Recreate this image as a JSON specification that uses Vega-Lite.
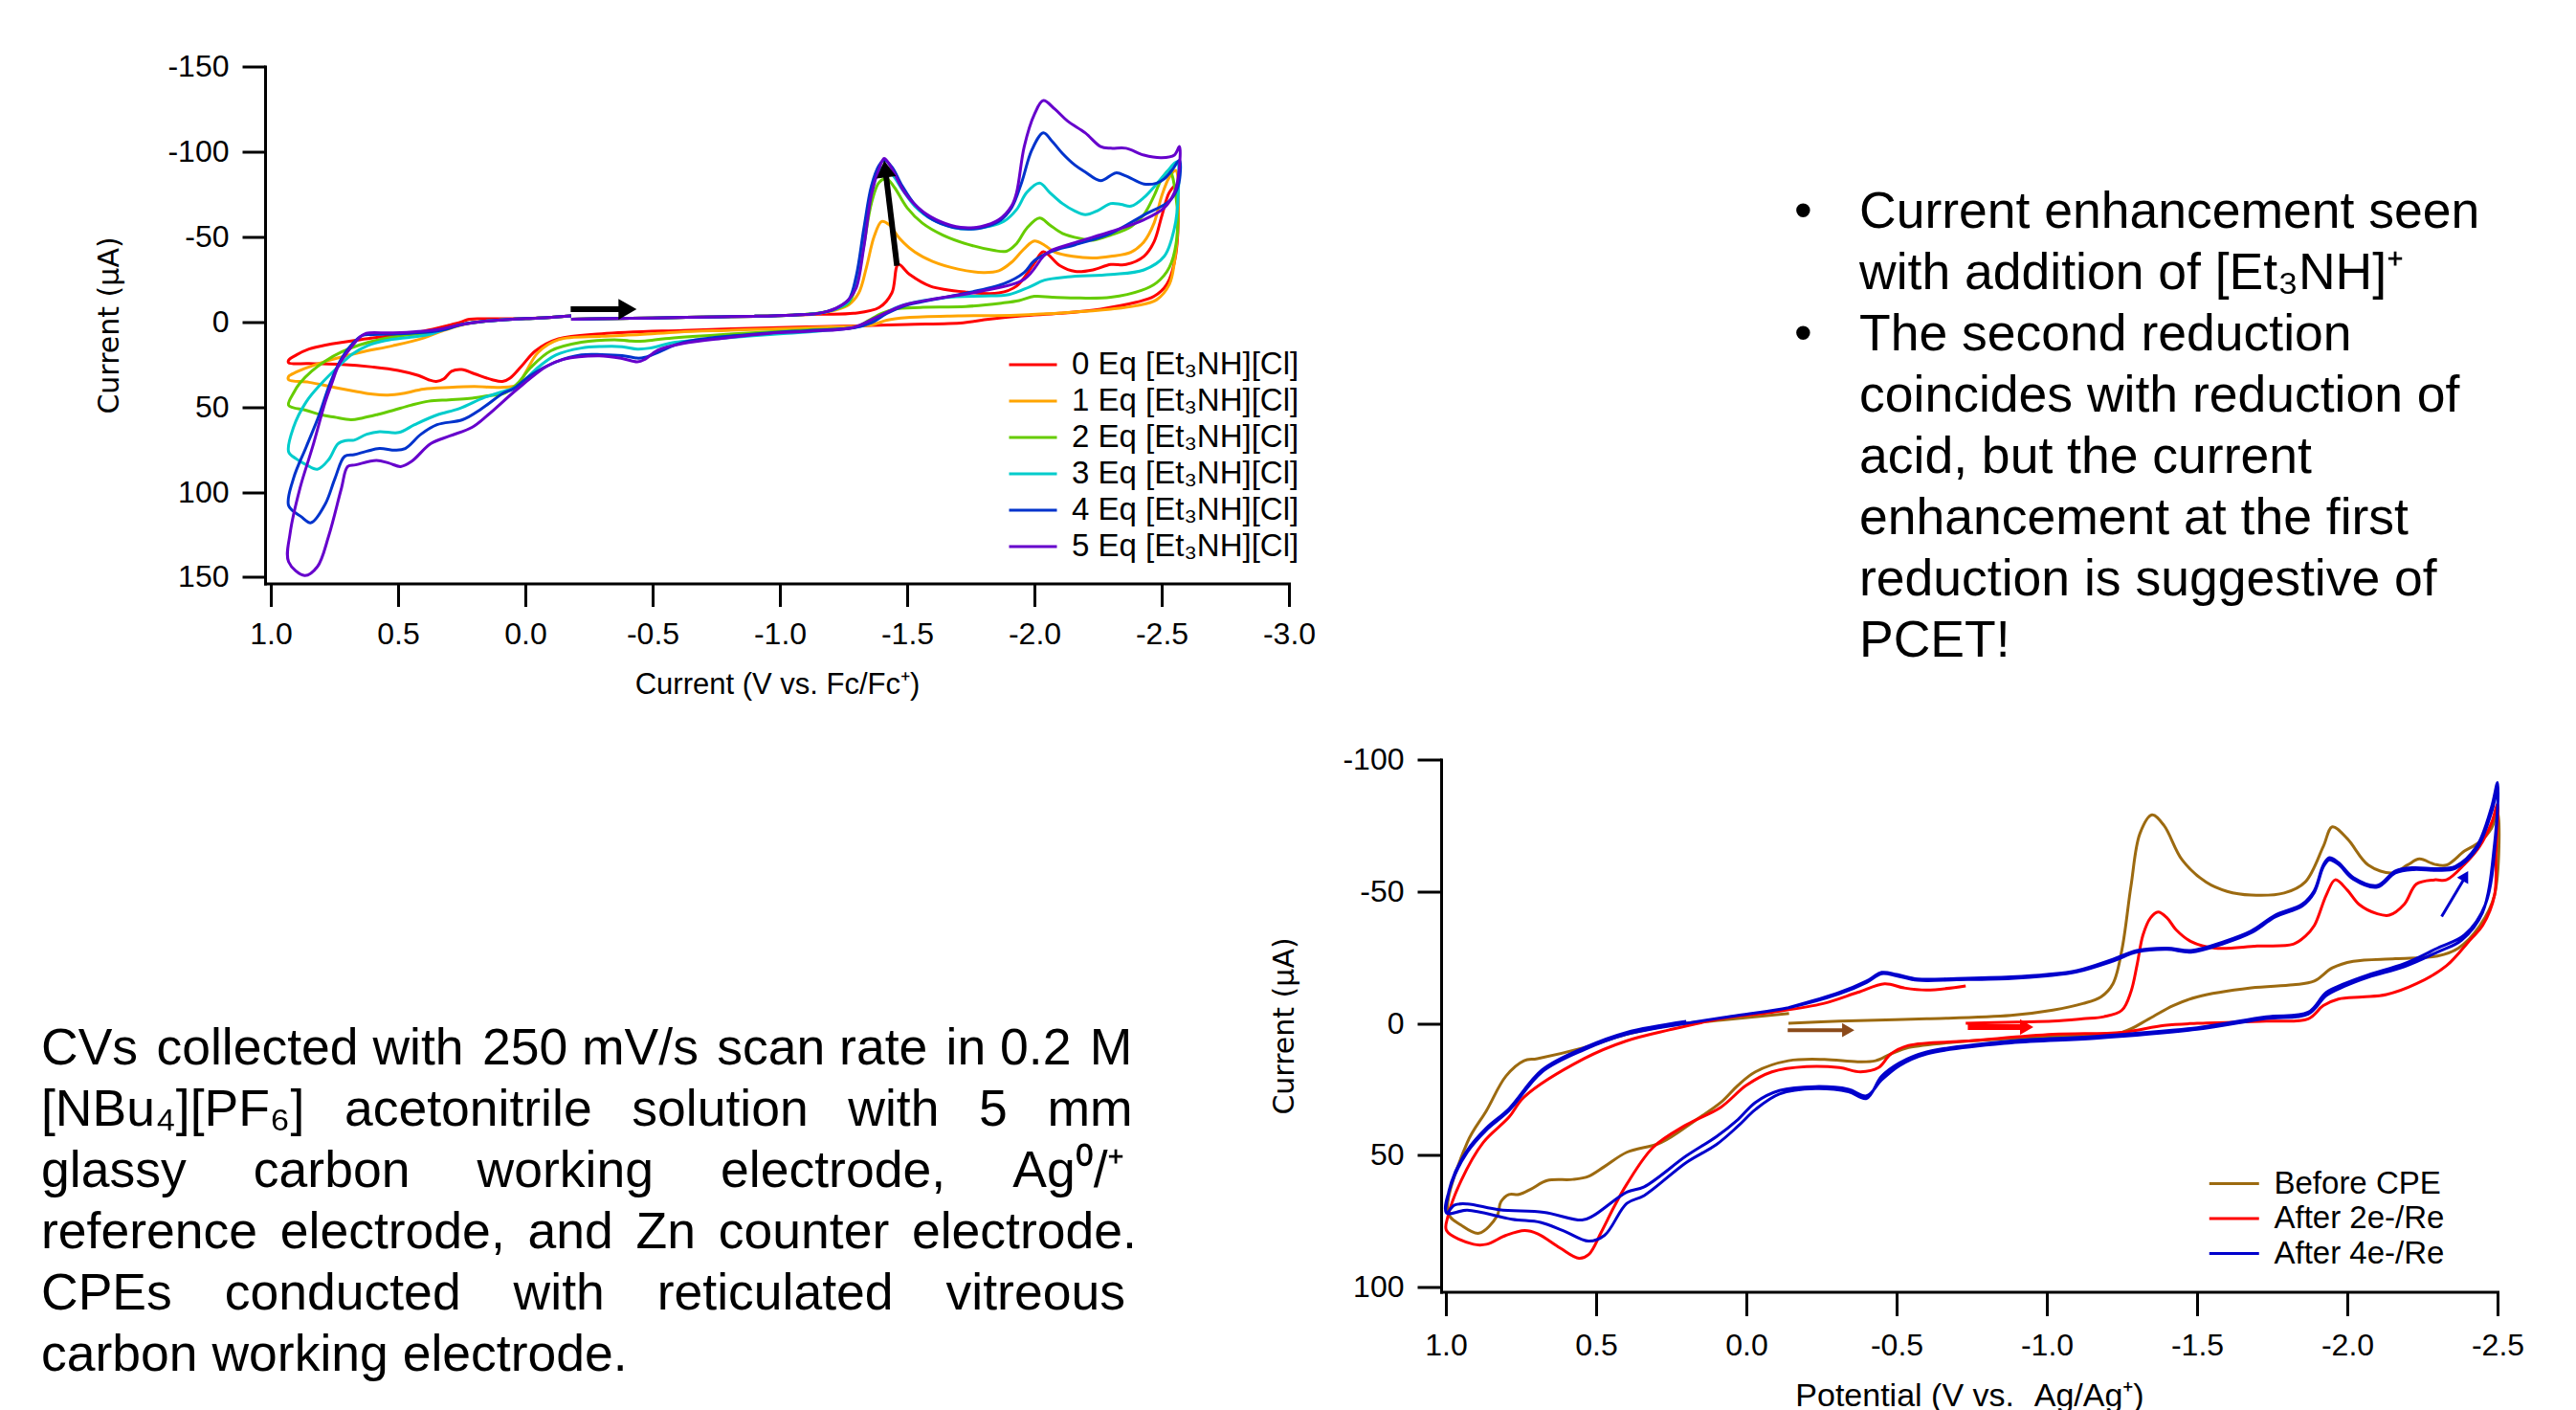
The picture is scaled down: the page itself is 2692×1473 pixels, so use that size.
{
"$schema": "https://vega.github.io/schema/vega-lite/v6.json",
"autosize": {"type": "pad"},
"padding": {"left": 43, "top": 53.5, "right": 0, "bottom": 0},
"background": "white",
"columns": 2,
"align": "each",
"bounds": "flush",
"spacing": {"column": 159, "row": 184},
"resolve": {"scale": {"color": "independent", "x": "independent", "y": "independent"}, "legend": {"color": "independent"}},
"config": {
 "view": {"stroke": null},
 "axis": {"domainColor": "#000", "domainWidth": 3, "domainCap": "square", "tickColor": "#000", "tickWidth": 3, "labelColor": "#000", "labelFont": "Liberation Sans", "labelFontSize": 32, "titleColor": "#000", "titleFont": "Liberation Sans", "titleFontSize": 31, "titleFontWeight": "normal", "grid": false, "labelFlush": false, "labelOverlap": false, "titleAlign": "center", "titleBaseline": "middle"},
 "legend": {"padding": 0, "rowPadding": 0, "labelFont": "Liberation Sans", "labelColor": "#000", "labelLimit": 700, "symbolStrokeWidth": 3}
},
"datasets": {
"top": [
{"s":"0","v":-0.18,"i":-1.5},{"s":"0","v":-0.35,"i":-2},{"s":"0","v":-0.5,"i":-2.3},{"s":"0","v":-0.7,"i":-2.8},{"s":"0","v":-0.9,"i":-3.3},{"s":"0","v":-1.05,"i":-4},{"s":"0","v":-1.15,"i":-4.5},{"s":"0","v":-1.29,"i":-5},{"s":"0","v":-1.39,"i":-8.4},{"s":"0","v":-1.44,"i":-17},{"s":"0","v":-1.465,"i":-33.7},{"s":"0","v":-1.51,"i":-27.8},{"s":"0","v":-1.59,"i":-21},{"s":"0","v":-1.73,"i":-17.5},{"s":"0","v":-1.86,"i":-17},{"s":"0","v":-1.93,"i":-21},{"s":"0","v":-2.0,"i":-34.5},{"s":"0","v":-2.035,"i":-41.2},{"s":"0","v":-2.1,"i":-33},{"s":"0","v":-2.16,"i":-29.6},{"s":"0","v":-2.23,"i":-30.5},{"s":"0","v":-2.3,"i":-33.7},{"s":"0","v":-2.36,"i":-33.7},{"s":"0","v":-2.43,"i":-38.5},{"s":"0","v":-2.47,"i":-47},{"s":"0","v":-2.5,"i":-62},{"s":"0","v":-2.53,"i":-76},{"s":"0","v":-2.555,"i":-80},{"s":"0","v":-2.565,"i":-60},{"s":"0","v":-2.55,"i":-35},{"s":"0","v":-2.52,"i":-22},{"s":"0","v":-2.47,"i":-15},{"s":"0","v":-2.4,"i":-11.5},{"s":"0","v":-2.26,"i":-7.5},{"s":"0","v":-2.1,"i":-5},{"s":"0","v":-1.95,"i":-3.5},{"s":"0","v":-1.82,"i":-1.5},{"s":"0","v":-1.72,"i":0.5},{"s":"0","v":-1.5,"i":1.5},{"s":"0","v":-1.29,"i":2.4},{"s":"0","v":-0.96,"i":3.5},{"s":"0","v":-0.62,"i":5},{"s":"0","v":-0.3,"i":7},{"s":"0","v":-0.13,"i":10},{"s":"0","v":-0.04,"i":17},{"s":"0","v":0.015,"i":26},{"s":"0","v":0.06,"i":33},{"s":"0","v":0.09,"i":35},{"s":"0","v":0.13,"i":34},{"s":"0","v":0.2,"i":30.5},{"s":"0","v":0.25,"i":28},{"s":"0","v":0.29,"i":29},{"s":"0","v":0.32,"i":33.5},{"s":"0","v":0.35,"i":35},{"s":"0","v":0.38,"i":34},{"s":"0","v":0.42,"i":31.5},{"s":"0","v":0.5,"i":28.5},{"s":"0","v":0.6,"i":26.5},{"s":"0","v":0.72,"i":25},{"s":"0","v":0.85,"i":24.5},{"s":"0","v":0.93,"i":24},{"s":"0","v":0.93,"i":22.5},{"s":"0","v":0.9,"i":19.5},{"s":"0","v":0.85,"i":16},{"s":"0","v":0.78,"i":13.5},{"s":"0","v":0.65,"i":10.5},{"s":"0","v":0.52,"i":8},{"s":"0","v":0.4,"i":5.5},{"s":"0","v":0.3,"i":2},{"s":"0","v":0.25,"i":0},{"s":"0","v":0.22,"i":-1.6},{"s":"0","v":0.15,"i":-1.8},{"s":"0","v":0.05,"i":-1.8},{"s":"0","v":-0.05,"i":-2.2},{"s":"0","v":-0.18,"i":-3.5},
{"s":"1","v":-0.18,"i":-1.5},{"s":"1","v":-0.35,"i":-2},{"s":"1","v":-0.5,"i":-2.3},{"s":"1","v":-0.7,"i":-2.8},{"s":"1","v":-0.9,"i":-3.3},{"s":"1","v":-1.05,"i":-4},{"s":"1","v":-1.15,"i":-5},{"s":"1","v":-1.22,"i":-7},{"s":"1","v":-1.27,"i":-10},{"s":"1","v":-1.31,"i":-17},{"s":"1","v":-1.34,"i":-32},{"s":"1","v":-1.37,"i":-50},{"s":"1","v":-1.4,"i":-59},{"s":"1","v":-1.43,"i":-57},{"s":"1","v":-1.47,"i":-49},{"s":"1","v":-1.53,"i":-41},{"s":"1","v":-1.6,"i":-35.5},{"s":"1","v":-1.7,"i":-31},{"s":"1","v":-1.8,"i":-29},{"s":"1","v":-1.86,"i":-30},{"s":"1","v":-1.91,"i":-35},{"s":"1","v":-1.96,"i":-43},{"s":"1","v":-2.0,"i":-47.5},{"s":"1","v":-2.04,"i":-45},{"s":"1","v":-2.08,"i":-41},{"s":"1","v":-2.15,"i":-38.5},{"s":"1","v":-2.23,"i":-37.5},{"s":"1","v":-2.3,"i":-38.5},{"s":"1","v":-2.38,"i":-41},{"s":"1","v":-2.43,"i":-47},{"s":"1","v":-2.47,"i":-58},{"s":"1","v":-2.5,"i":-74},{"s":"1","v":-2.53,"i":-85},{"s":"1","v":-2.555,"i":-89},{"s":"1","v":-2.565,"i":-65},{"s":"1","v":-2.55,"i":-35},{"s":"1","v":-2.53,"i":-22},{"s":"1","v":-2.48,"i":-13},{"s":"1","v":-2.4,"i":-9.5},{"s":"1","v":-2.3,"i":-7.5},{"s":"1","v":-2.13,"i":-5.5},{"s":"1","v":-1.93,"i":-4},{"s":"1","v":-1.7,"i":-3.5},{"s":"1","v":-1.5,"i":-2.5},{"s":"1","v":-1.42,"i":-1},{"s":"1","v":-1.36,"i":1.8},{"s":"1","v":-1.2,"i":3},{"s":"1","v":-0.96,"i":4.2},{"s":"1","v":-0.79,"i":5},{"s":"1","v":-0.6,"i":6},{"s":"1","v":-0.45,"i":7.5},{"s":"1","v":-0.3,"i":8.5},{"s":"1","v":-0.13,"i":10.5},{"s":"1","v":-0.05,"i":18},{"s":"1","v":0.0,"i":30},{"s":"1","v":0.03,"i":37},{"s":"1","v":0.1,"i":38.5},{"s":"1","v":0.2,"i":38},{"s":"1","v":0.3,"i":38.5},{"s":"1","v":0.4,"i":39.5},{"s":"1","v":0.48,"i":42},{"s":"1","v":0.54,"i":43},{"s":"1","v":0.6,"i":42.5},{"s":"1","v":0.66,"i":41},{"s":"1","v":0.75,"i":38.5},{"s":"1","v":0.85,"i":35.5},{"s":"1","v":0.93,"i":34},{"s":"1","v":0.93,"i":32},{"s":"1","v":0.9,"i":29.5},{"s":"1","v":0.85,"i":26.5},{"s":"1","v":0.78,"i":23},{"s":"1","v":0.65,"i":18},{"s":"1","v":0.52,"i":14},{"s":"1","v":0.4,"i":9.5},{"s":"1","v":0.33,"i":5.5},{"s":"1","v":0.25,"i":1.8},{"s":"1","v":0.15,"i":-0.5},{"s":"1","v":0.05,"i":-1.6},{"s":"1","v":-0.05,"i":-2.2},{"s":"1","v":-0.18,"i":-3.5},
{"s":"2","v":-0.18,"i":-1.5},{"s":"2","v":-0.35,"i":-2},{"s":"2","v":-0.5,"i":-2.3},{"s":"2","v":-0.7,"i":-2.8},{"s":"2","v":-0.9,"i":-3.3},{"s":"2","v":-1.05,"i":-4},{"s":"2","v":-1.15,"i":-5},{"s":"2","v":-1.22,"i":-7.5},{"s":"2","v":-1.27,"i":-11},{"s":"2","v":-1.3,"i":-22},{"s":"2","v":-1.33,"i":-45},{"s":"2","v":-1.36,"i":-70},{"s":"2","v":-1.39,"i":-82},{"s":"2","v":-1.42,"i":-84},{"s":"2","v":-1.45,"i":-79},{"s":"2","v":-1.5,"i":-67},{"s":"2","v":-1.56,"i":-58},{"s":"2","v":-1.64,"i":-51},{"s":"2","v":-1.74,"i":-45.5},{"s":"2","v":-1.84,"i":-42},{"s":"2","v":-1.89,"i":-41.5},{"s":"2","v":-1.93,"i":-46},{"s":"2","v":-1.97,"i":-55},{"s":"2","v":-2.02,"i":-61},{"s":"2","v":-2.06,"i":-57},{"s":"2","v":-2.11,"i":-52},{"s":"2","v":-2.18,"i":-49},{"s":"2","v":-2.23,"i":-48},{"s":"2","v":-2.3,"i":-51},{"s":"2","v":-2.38,"i":-56},{"s":"2","v":-2.43,"i":-63},{"s":"2","v":-2.47,"i":-74},{"s":"2","v":-2.5,"i":-84},{"s":"2","v":-2.53,"i":-89},{"s":"2","v":-2.555,"i":-75},{"s":"2","v":-2.56,"i":-50},{"s":"2","v":-2.53,"i":-32},{"s":"2","v":-2.48,"i":-23},{"s":"2","v":-2.42,"i":-18.5},{"s":"2","v":-2.3,"i":-14.5},{"s":"2","v":-2.18,"i":-14},{"s":"2","v":-2.07,"i":-14.5},{"s":"2","v":-2.0,"i":-15},{"s":"2","v":-1.94,"i":-12.5},{"s":"2","v":-1.87,"i":-11},{"s":"2","v":-1.73,"i":-9},{"s":"2","v":-1.55,"i":-8.5},{"s":"2","v":-1.45,"i":-7.5},{"s":"2","v":-1.4,"i":-5},{"s":"2","v":-1.35,"i":-1},{"s":"2","v":-1.3,"i":3},{"s":"2","v":-1.12,"i":4.6},{"s":"2","v":-0.79,"i":7.3},{"s":"2","v":-0.55,"i":9.8},{"s":"2","v":-0.47,"i":11.3},{"s":"2","v":-0.41,"i":11.2},{"s":"2","v":-0.35,"i":10.5},{"s":"2","v":-0.22,"i":12},{"s":"2","v":-0.1,"i":17},{"s":"2","v":-0.02,"i":27},{"s":"2","v":0.03,"i":36},{"s":"2","v":0.08,"i":41.8},{"s":"2","v":0.15,"i":43.5},{"s":"2","v":0.22,"i":45},{"s":"2","v":0.3,"i":45.8},{"s":"2","v":0.38,"i":46.6},{"s":"2","v":0.45,"i":49},{"s":"2","v":0.52,"i":52},{"s":"2","v":0.58,"i":54.4},{"s":"2","v":0.64,"i":56.5},{"s":"2","v":0.685,"i":57.5},{"s":"2","v":0.75,"i":56},{"s":"2","v":0.8,"i":54.7},{"s":"2","v":0.86,"i":52},{"s":"2","v":0.93,"i":49},{"s":"2","v":0.91,"i":41.6},{"s":"2","v":0.886,"i":36},{"s":"2","v":0.84,"i":29},{"s":"2","v":0.786,"i":23},{"s":"2","v":0.72,"i":17.5},{"s":"2","v":0.65,"i":13.5},{"s":"2","v":0.56,"i":10},{"s":"2","v":0.48,"i":8},{"s":"2","v":0.38,"i":6.5},{"s":"2","v":0.32,"i":4.5},{"s":"2","v":0.25,"i":1.5},{"s":"2","v":0.15,"i":-0.5},{"s":"2","v":0.05,"i":-1.6},{"s":"2","v":-0.05,"i":-2.2},{"s":"2","v":-0.18,"i":-3.5},
{"s":"3","v":-0.18,"i":-1.5},{"s":"3","v":-0.35,"i":-2},{"s":"3","v":-0.5,"i":-2.3},{"s":"3","v":-0.7,"i":-2.8},{"s":"3","v":-0.9,"i":-3.3},{"s":"3","v":-1.05,"i":-4},{"s":"3","v":-1.15,"i":-5},{"s":"3","v":-1.22,"i":-7.5},{"s":"3","v":-1.27,"i":-12},{"s":"3","v":-1.3,"i":-25},{"s":"3","v":-1.33,"i":-52},{"s":"3","v":-1.36,"i":-77},{"s":"3","v":-1.39,"i":-89},{"s":"3","v":-1.41,"i":-91},{"s":"3","v":-1.44,"i":-87},{"s":"3","v":-1.48,"i":-78},{"s":"3","v":-1.53,"i":-68},{"s":"3","v":-1.6,"i":-60},{"s":"3","v":-1.68,"i":-55.5},{"s":"3","v":-1.75,"i":-54.5},{"s":"3","v":-1.82,"i":-56},{"s":"3","v":-1.88,"i":-59},{"s":"3","v":-1.93,"i":-66},{"s":"3","v":-1.97,"i":-76},{"s":"3","v":-2.02,"i":-81.5},{"s":"3","v":-2.06,"i":-76},{"s":"3","v":-2.11,"i":-69.5},{"s":"3","v":-2.16,"i":-65},{"s":"3","v":-2.2,"i":-63},{"s":"3","v":-2.25,"i":-65.5},{"s":"3","v":-2.3,"i":-69.5},{"s":"3","v":-2.34,"i":-69},{"s":"3","v":-2.38,"i":-68},{"s":"3","v":-2.43,"i":-73},{"s":"3","v":-2.48,"i":-81},{"s":"3","v":-2.52,"i":-88},{"s":"3","v":-2.56,"i":-94},{"s":"3","v":-2.565,"i":-75},{"s":"3","v":-2.55,"i":-55},{"s":"3","v":-2.51,"i":-38.5},{"s":"3","v":-2.43,"i":-30.5},{"s":"3","v":-2.3,"i":-27.8},{"s":"3","v":-2.13,"i":-26.4},{"s":"3","v":-2.04,"i":-24.5},{"s":"3","v":-1.98,"i":-20.5},{"s":"3","v":-1.9,"i":-16},{"s":"3","v":-1.8,"i":-15.2},{"s":"3","v":-1.69,"i":-14.8},{"s":"3","v":-1.53,"i":-11.6},{"s":"3","v":-1.45,"i":-8},{"s":"3","v":-1.4,"i":-3.5},{"s":"3","v":-1.33,"i":2},{"s":"3","v":-1.2,"i":4.8},{"s":"3","v":-1.0,"i":7},{"s":"3","v":-0.79,"i":9.4},{"s":"3","v":-0.59,"i":12},{"s":"3","v":-0.49,"i":15.4},{"s":"3","v":-0.44,"i":16},{"s":"3","v":-0.38,"i":14.6},{"s":"3","v":-0.3,"i":14.5},{"s":"3","v":-0.22,"i":15.4},{"s":"3","v":-0.12,"i":19.5},{"s":"3","v":-0.04,"i":28},{"s":"3","v":0.03,"i":38},{"s":"3","v":0.084,"i":40.7},{"s":"3","v":0.16,"i":44.4},{"s":"3","v":0.26,"i":51},{"s":"3","v":0.347,"i":54.7},{"s":"3","v":0.435,"i":60.4},{"s":"3","v":0.497,"i":65},{"s":"3","v":0.573,"i":64.5},{"s":"3","v":0.623,"i":66},{"s":"3","v":0.673,"i":69.5},{"s":"3","v":0.704,"i":69.7},{"s":"3","v":0.736,"i":71.6},{"s":"3","v":0.773,"i":81},{"s":"3","v":0.817,"i":86.6},{"s":"3","v":0.86,"i":84},{"s":"3","v":0.9,"i":80.5},{"s":"3","v":0.93,"i":76.3},{"s":"3","v":0.911,"i":62},{"s":"3","v":0.861,"i":47},{"s":"3","v":0.8,"i":36},{"s":"3","v":0.74,"i":27},{"s":"3","v":0.68,"i":19},{"s":"3","v":0.62,"i":14},{"s":"3","v":0.55,"i":11},{"s":"3","v":0.45,"i":9},{"s":"3","v":0.38,"i":7.5},{"s":"3","v":0.32,"i":4.5},{"s":"3","v":0.25,"i":1.5},{"s":"3","v":0.15,"i":-0.5},{"s":"3","v":0.05,"i":-1.6},{"s":"3","v":-0.05,"i":-2.2},{"s":"3","v":-0.18,"i":-3.5},
{"s":"4","v":-0.18,"i":-1.5},{"s":"4","v":-0.35,"i":-2},{"s":"4","v":-0.5,"i":-2.3},{"s":"4","v":-0.7,"i":-2.8},{"s":"4","v":-0.9,"i":-3.3},{"s":"4","v":-1.05,"i":-4},{"s":"4","v":-1.15,"i":-5},{"s":"4","v":-1.22,"i":-8},{"s":"4","v":-1.27,"i":-13},{"s":"4","v":-1.3,"i":-27},{"s":"4","v":-1.33,"i":-55},{"s":"4","v":-1.36,"i":-80},{"s":"4","v":-1.39,"i":-92},{"s":"4","v":-1.41,"i":-95},{"s":"4","v":-1.44,"i":-91},{"s":"4","v":-1.48,"i":-80},{"s":"4","v":-1.53,"i":-69},{"s":"4","v":-1.6,"i":-60},{"s":"4","v":-1.68,"i":-55.5},{"s":"4","v":-1.74,"i":-54.5},{"s":"4","v":-1.8,"i":-55.5},{"s":"4","v":-1.86,"i":-59},{"s":"4","v":-1.91,"i":-67},{"s":"4","v":-1.95,"i":-82},{"s":"4","v":-1.99,"i":-101},{"s":"4","v":-2.035,"i":-111},{"s":"4","v":-2.07,"i":-106},{"s":"4","v":-2.11,"i":-99},{"s":"4","v":-2.16,"i":-92},{"s":"4","v":-2.2,"i":-88},{"s":"4","v":-2.26,"i":-83},{"s":"4","v":-2.32,"i":-87.5},{"s":"4","v":-2.36,"i":-85.7},{"s":"4","v":-2.43,"i":-81},{"s":"4","v":-2.48,"i":-81.5},{"s":"4","v":-2.51,"i":-84},{"s":"4","v":-2.54,"i":-89},{"s":"4","v":-2.57,"i":-95},{"s":"4","v":-2.565,"i":-80},{"s":"4","v":-2.53,"i":-71},{"s":"4","v":-2.43,"i":-62.8},{"s":"4","v":-2.3,"i":-52},{"s":"4","v":-2.16,"i":-45.3},{"s":"4","v":-2.07,"i":-41.5},{"s":"4","v":-2.0,"i":-36},{"s":"4","v":-1.96,"i":-29},{"s":"4","v":-1.88,"i":-22.4},{"s":"4","v":-1.69,"i":-15.6},{"s":"4","v":-1.49,"i":-9.4},{"s":"4","v":-1.42,"i":-5},{"s":"4","v":-1.36,"i":0.5},{"s":"4","v":-1.29,"i":3.5},{"s":"4","v":-1.12,"i":5},{"s":"4","v":-0.89,"i":7.3},{"s":"4","v":-0.62,"i":12},{"s":"4","v":-0.52,"i":18},{"s":"4","v":-0.47,"i":20.8},{"s":"4","v":-0.44,"i":21.3},{"s":"4","v":-0.38,"i":19.8},{"s":"4","v":-0.3,"i":19.2},{"s":"4","v":-0.22,"i":19.4},{"s":"4","v":-0.12,"i":23.5},{"s":"4","v":-0.02,"i":31.5},{"s":"4","v":0.05,"i":39.6},{"s":"4","v":0.084,"i":41.6},{"s":"4","v":0.172,"i":51},{"s":"4","v":0.247,"i":57.5},{"s":"4","v":0.347,"i":60.4},{"s":"4","v":0.41,"i":66},{"s":"4","v":0.472,"i":74.4},{"s":"4","v":0.51,"i":75.4},{"s":"4","v":0.573,"i":74.4},{"s":"4","v":0.623,"i":76},{"s":"4","v":0.673,"i":78},{"s":"4","v":0.71,"i":79},{"s":"4","v":0.748,"i":92},{"s":"4","v":0.786,"i":107},{"s":"4","v":0.842,"i":118},{"s":"4","v":0.88,"i":114.5},{"s":"4","v":0.93,"i":108},{"s":"4","v":0.911,"i":92},{"s":"4","v":0.861,"i":73.5},{"s":"4","v":0.81,"i":54.7},{"s":"4","v":0.767,"i":36},{"s":"4","v":0.72,"i":21},{"s":"4","v":0.68,"i":13},{"s":"4","v":0.64,"i":8},{"s":"4","v":0.6,"i":7.5},{"s":"4","v":0.5,"i":7},{"s":"4","v":0.4,"i":6.2},{"s":"4","v":0.32,"i":4.6},{"s":"4","v":0.25,"i":1.5},{"s":"4","v":0.15,"i":-0.5},{"s":"4","v":0.05,"i":-1.6},{"s":"4","v":-0.05,"i":-2.2},{"s":"4","v":-0.18,"i":-3.5},
{"s":"5","v":-0.18,"i":-1.5},{"s":"5","v":-0.35,"i":-2},{"s":"5","v":-0.5,"i":-2.3},{"s":"5","v":-0.7,"i":-2.8},{"s":"5","v":-0.9,"i":-3.3},{"s":"5","v":-1.05,"i":-4},{"s":"5","v":-1.15,"i":-5},{"s":"5","v":-1.22,"i":-8},{"s":"5","v":-1.27,"i":-13},{"s":"5","v":-1.3,"i":-20},{"s":"5","v":-1.33,"i":-44},{"s":"5","v":-1.36,"i":-75},{"s":"5","v":-1.39,"i":-90},{"s":"5","v":-1.41,"i":-96},{"s":"5","v":-1.44,"i":-90},{"s":"5","v":-1.49,"i":-76},{"s":"5","v":-1.56,"i":-65},{"s":"5","v":-1.63,"i":-59},{"s":"5","v":-1.71,"i":-55.5},{"s":"5","v":-1.79,"i":-56},{"s":"5","v":-1.86,"i":-60},{"s":"5","v":-1.91,"i":-68},{"s":"5","v":-1.93,"i":-76},{"s":"5","v":-1.96,"i":-103},{"s":"5","v":-2.0,"i":-122},{"s":"5","v":-2.035,"i":-130},{"s":"5","v":-2.08,"i":-125},{"s":"5","v":-2.13,"i":-118},{"s":"5","v":-2.2,"i":-111},{"s":"5","v":-2.26,"i":-103},{"s":"5","v":-2.3,"i":-102},{"s":"5","v":-2.36,"i":-102},{"s":"5","v":-2.43,"i":-98},{"s":"5","v":-2.5,"i":-96.5},{"s":"5","v":-2.55,"i":-98},{"s":"5","v":-2.57,"i":-103},{"s":"5","v":-2.565,"i":-85},{"s":"5","v":-2.55,"i":-76},{"s":"5","v":-2.51,"i":-67},{"s":"5","v":-2.43,"i":-60},{"s":"5","v":-2.3,"i":-53},{"s":"5","v":-2.16,"i":-46.6},{"s":"5","v":-2.06,"i":-41.5},{"s":"5","v":-2.035,"i":-38.5},{"s":"5","v":-1.96,"i":-25},{"s":"5","v":-1.79,"i":-18},{"s":"5","v":-1.63,"i":-14},{"s":"5","v":-1.49,"i":-10},{"s":"5","v":-1.39,"i":-3.5},{"s":"5","v":-1.29,"i":3.2},{"s":"5","v":-1.12,"i":5.5},{"s":"5","v":-0.96,"i":6.7},{"s":"5","v":-0.79,"i":9.4},{"s":"5","v":-0.62,"i":12.7},{"s":"5","v":-0.52,"i":16.7},{"s":"5","v":-0.47,"i":22},{"s":"5","v":-0.44,"i":23.5},{"s":"5","v":-0.38,"i":21.5},{"s":"5","v":-0.29,"i":20},{"s":"5","v":-0.15,"i":22},{"s":"5","v":-0.085,"i":26},{"s":"5","v":0.034,"i":39.8},{"s":"5","v":0.147,"i":54.7},{"s":"5","v":0.21,"i":62},{"s":"5","v":0.297,"i":67},{"s":"5","v":0.372,"i":71.6},{"s":"5","v":0.447,"i":82},{"s":"5","v":0.49,"i":85},{"s":"5","v":0.535,"i":83},{"s":"5","v":0.585,"i":81.4},{"s":"5","v":0.667,"i":84},{"s":"5","v":0.698,"i":85},{"s":"5","v":0.723,"i":98},{"s":"5","v":0.773,"i":126},{"s":"5","v":0.817,"i":143.8},{"s":"5","v":0.867,"i":149},{"s":"5","v":0.93,"i":141},{"s":"5","v":0.924,"i":124},{"s":"5","v":0.886,"i":98},{"s":"5","v":0.836,"i":73.5},{"s":"5","v":0.786,"i":47},{"s":"5","v":0.76,"i":36},{"s":"5","v":0.735,"i":26},{"s":"5","v":0.685,"i":15},{"s":"5","v":0.65,"i":9},{"s":"5","v":0.625,"i":6.7},{"s":"5","v":0.52,"i":6.5},{"s":"5","v":0.35,"i":4.6},{"s":"5","v":0.25,"i":1.5},{"s":"5","v":0.15,"i":-0.5},{"s":"5","v":0.05,"i":-1.6},{"s":"5","v":-0.05,"i":-2.2},{"s":"5","v":-0.18,"i":-3.5}
],
"topArrows": [
{"a":"h","v":-0.178,"i":-7.4,"v2":-0.39,"i2":-7.4},
{"a":"d","v":-1.46,"i":-33,"v2":-1.414,"i2":-89.8}
],
"topHeads": [
{"a":"h","v":-0.4015,"i":-7.4},
{"a":"d","v":-1.414,"i":-89.8}
],
"bot": [
{"s":"Before CPE","v":-0.14,"i":0},{"s":"Before CPE","v":-0.31,"i":-0.8},{"s":"Before CPE","v":-0.6,"i":-1.7},{"s":"Before CPE","v":-0.88,"i":-3},{"s":"Before CPE","v":-1.02,"i":-5},{"s":"Before CPE","v":-1.12,"i":-7.5},{"s":"Before CPE","v":-1.18,"i":-10},{"s":"Before CPE","v":-1.22,"i":-15},{"s":"Before CPE","v":-1.25,"i":-28},{"s":"Before CPE","v":-1.28,"i":-52},{"s":"Before CPE","v":-1.31,"i":-72},{"s":"Before CPE","v":-1.35,"i":-79},{"s":"Before CPE","v":-1.39,"i":-75},{"s":"Before CPE","v":-1.45,"i":-62},{"s":"Before CPE","v":-1.53,"i":-53.5},{"s":"Before CPE","v":-1.6,"i":-50},{"s":"Before CPE","v":-1.68,"i":-48.6},{"s":"Before CPE","v":-1.79,"i":-49.4},{"s":"Before CPE","v":-1.86,"i":-53.6},{"s":"Before CPE","v":-1.92,"i":-67},{"s":"Before CPE","v":-1.95,"i":-74.5},{"s":"Before CPE","v":-2.0,"i":-70},{"s":"Before CPE","v":-2.07,"i":-60},{"s":"Before CPE","v":-2.15,"i":-57},{"s":"Before CPE","v":-2.2,"i":-60},{"s":"Before CPE","v":-2.24,"i":-62.3},{"s":"Before CPE","v":-2.29,"i":-60.3},{"s":"Before CPE","v":-2.33,"i":-60},{"s":"Before CPE","v":-2.39,"i":-65.3},{"s":"Before CPE","v":-2.44,"i":-68.7},{"s":"Before CPE","v":-2.48,"i":-74},{"s":"Before CPE","v":-2.5,"i":-80},{"s":"Before CPE","v":-2.49,"i":-48.6},{"s":"Before CPE","v":-2.44,"i":-36.8},{"s":"Before CPE","v":-2.37,"i":-28.5},{"s":"Before CPE","v":-2.3,"i":-25.5},{"s":"Before CPE","v":-2.16,"i":-24.5},{"s":"Before CPE","v":-2.02,"i":-23.5},{"s":"Before CPE","v":-1.95,"i":-21},{"s":"Before CPE","v":-1.89,"i":-16},{"s":"Before CPE","v":-1.82,"i":-14.6},{"s":"Before CPE","v":-1.68,"i":-13.4},{"s":"Before CPE","v":-1.5,"i":-10},{"s":"Before CPE","v":-1.42,"i":-6.7},{"s":"Before CPE","v":-1.34,"i":-1.7},{"s":"Before CPE","v":-1.25,"i":3.4},{"s":"Before CPE","v":-1.02,"i":5},{"s":"Before CPE","v":-0.74,"i":6.7},{"s":"Before CPE","v":-0.54,"i":9.2},{"s":"Before CPE","v":-0.48,"i":11.7},{"s":"Before CPE","v":-0.43,"i":14.2},{"s":"Before CPE","v":-0.37,"i":14.6},{"s":"Before CPE","v":-0.26,"i":13.7},{"s":"Before CPE","v":-0.14,"i":14.2},{"s":"Before CPE","v":-0.03,"i":18.4},{"s":"Before CPE","v":0.028,"i":23.5},{"s":"Before CPE","v":0.085,"i":30},{"s":"Before CPE","v":0.17,"i":36.8},{"s":"Before CPE","v":0.284,"i":45.2},{"s":"Before CPE","v":0.398,"i":48.9},{"s":"Before CPE","v":0.472,"i":54.3},{"s":"Before CPE","v":0.525,"i":58},{"s":"Before CPE","v":0.578,"i":59.2},{"s":"Before CPE","v":0.663,"i":59.6},{"s":"Before CPE","v":0.716,"i":62.8},{"s":"Before CPE","v":0.757,"i":64.9},{"s":"Before CPE","v":0.79,"i":64.9},{"s":"Before CPE","v":0.817,"i":67.7},{"s":"Before CPE","v":0.83,"i":73.1},{"s":"Before CPE","v":0.89,"i":79.6},{"s":"Before CPE","v":0.95,"i":76.5},{"s":"Before CPE","v":0.993,"i":71.9},{"s":"Before CPE","v":0.929,"i":45.2},{"s":"Before CPE","v":0.865,"i":33.1},{"s":"Before CPE","v":0.8,"i":20},{"s":"Before CPE","v":0.74,"i":14.2},{"s":"Before CPE","v":0.696,"i":13.4},{"s":"Before CPE","v":0.54,"i":9.2},{"s":"Before CPE","v":0.4,"i":4.2},{"s":"Before CPE","v":0.256,"i":0.8},{"s":"Before CPE","v":0.085,"i":-1.2},{"s":"Before CPE","v":-0.142,"i":-3.7},
{"s":"After 2e-/Re","v":-0.73,"i":0},{"s":"After 2e-/Re","v":-0.9,"i":-0.5},{"s":"After 2e-/Re","v":-1.02,"i":-0.8},{"s":"After 2e-/Re","v":-1.12,"i":-1.7},{"s":"After 2e-/Re","v":-1.19,"i":-2.5},{"s":"After 2e-/Re","v":-1.25,"i":-5},{"s":"After 2e-/Re","v":-1.28,"i":-12},{"s":"After 2e-/Re","v":-1.3,"i":-22},{"s":"After 2e-/Re","v":-1.32,"i":-33.5},{"s":"After 2e-/Re","v":-1.345,"i":-40},{"s":"After 2e-/Re","v":-1.37,"i":-42.2},{"s":"After 2e-/Re","v":-1.4,"i":-40},{"s":"After 2e-/Re","v":-1.43,"i":-35.5},{"s":"After 2e-/Re","v":-1.48,"i":-31},{"s":"After 2e-/Re","v":-1.56,"i":-28.5},{"s":"After 2e-/Re","v":-1.7,"i":-29.3},{"s":"After 2e-/Re","v":-1.82,"i":-30},{"s":"After 2e-/Re","v":-1.86,"i":-33},{"s":"After 2e-/Re","v":-1.89,"i":-37},{"s":"After 2e-/Re","v":-1.93,"i":-48.6},{"s":"After 2e-/Re","v":-1.96,"i":-54.4},{"s":"After 2e-/Re","v":-2.0,"i":-50.5},{"s":"After 2e-/Re","v":-2.04,"i":-45},{"s":"After 2e-/Re","v":-2.1,"i":-41.5},{"s":"After 2e-/Re","v":-2.14,"i":-41},{"s":"After 2e-/Re","v":-2.19,"i":-45.2},{"s":"After 2e-/Re","v":-2.23,"i":-52.8},{"s":"After 2e-/Re","v":-2.29,"i":-54.4},{"s":"After 2e-/Re","v":-2.33,"i":-54.4},{"s":"After 2e-/Re","v":-2.39,"i":-60.3},{"s":"After 2e-/Re","v":-2.44,"i":-67},{"s":"After 2e-/Re","v":-2.48,"i":-76},{"s":"After 2e-/Re","v":-2.5,"i":-83},{"s":"After 2e-/Re","v":-2.495,"i":-65},{"s":"After 2e-/Re","v":-2.49,"i":-48.6},{"s":"After 2e-/Re","v":-2.45,"i":-37},{"s":"After 2e-/Re","v":-2.41,"i":-31.8},{"s":"After 2e-/Re","v":-2.33,"i":-21.8},{"s":"After 2e-/Re","v":-2.23,"i":-15},{"s":"After 2e-/Re","v":-2.13,"i":-10.9},{"s":"After 2e-/Re","v":-2.05,"i":-10},{"s":"After 2e-/Re","v":-1.97,"i":-9.2},{"s":"After 2e-/Re","v":-1.92,"i":-6.7},{"s":"After 2e-/Re","v":-1.87,"i":-1.7},{"s":"After 2e-/Re","v":-1.73,"i":-0.8},{"s":"After 2e-/Re","v":-1.5,"i":0},{"s":"After 2e-/Re","v":-1.39,"i":0.8},{"s":"After 2e-/Re","v":-1.25,"i":3.4},{"s":"After 2e-/Re","v":-1.02,"i":4.2},{"s":"After 2e-/Re","v":-0.74,"i":6.7},{"s":"After 2e-/Re","v":-0.54,"i":8.4},{"s":"After 2e-/Re","v":-0.48,"i":11.7},{"s":"After 2e-/Re","v":-0.44,"i":16.8},{"s":"After 2e-/Re","v":-0.38,"i":18.4},{"s":"After 2e-/Re","v":-0.31,"i":16.8},{"s":"After 2e-/Re","v":-0.2,"i":16.4},{"s":"After 2e-/Re","v":-0.085,"i":18.4},{"s":"After 2e-/Re","v":0.0,"i":23.5},{"s":"After 2e-/Re","v":0.085,"i":31.8},{"s":"After 2e-/Re","v":0.2,"i":38.5},{"s":"After 2e-/Re","v":0.31,"i":47},{"s":"After 2e-/Re","v":0.398,"i":61},{"s":"After 2e-/Re","v":0.44,"i":69.5},{"s":"After 2e-/Re","v":0.483,"i":79.2},{"s":"After 2e-/Re","v":0.525,"i":87.7},{"s":"After 2e-/Re","v":0.557,"i":89.1},{"s":"After 2e-/Re","v":0.62,"i":85.2},{"s":"After 2e-/Re","v":0.695,"i":79.8},{"s":"After 2e-/Re","v":0.738,"i":78.6},{"s":"After 2e-/Re","v":0.8,"i":80.4},{"s":"After 2e-/Re","v":0.865,"i":83.8},{"s":"After 2e-/Re","v":0.908,"i":83.8},{"s":"After 2e-/Re","v":0.998,"i":78.6},{"s":"After 2e-/Re","v":0.993,"i":73.1},{"s":"After 2e-/Re","v":0.95,"i":59.8},{"s":"After 2e-/Re","v":0.876,"i":45.2},{"s":"After 2e-/Re","v":0.79,"i":35.6},{"s":"After 2e-/Re","v":0.74,"i":28},{"s":"After 2e-/Re","v":0.54,"i":13.4},{"s":"After 2e-/Re","v":0.4,"i":6.7},{"s":"After 2e-/Re","v":0.256,"i":2.5},{"s":"After 2e-/Re","v":0.085,"i":-1.7},{"s":"After 2e-/Re","v":-0.085,"i":-4.2},{"s":"After 2e-/Re","v":-0.256,"i":-7.5},{"s":"After 2e-/Re","v":-0.37,"i":-11.7},{"s":"After 2e-/Re","v":-0.46,"i":-15},{"s":"After 2e-/Re","v":-0.525,"i":-13.4},{"s":"After 2e-/Re","v":-0.6,"i":-12.6},{"s":"After 2e-/Re","v":-0.73,"i":-14.2},
{"s":"After 4e-/Re","v":-0.14,"i":-5.9},{"s":"After 4e-/Re","v":-0.31,"i":-11.7},{"s":"After 4e-/Re","v":-0.4,"i":-16},{"s":"After 4e-/Re","v":-0.45,"i":-19.3},{"s":"After 4e-/Re","v":-0.5,"i":-18.5},{"s":"After 4e-/Re","v":-0.57,"i":-16.8},{"s":"After 4e-/Re","v":-0.7,"i":-17},{"s":"After 4e-/Re","v":-0.88,"i":-17.6},{"s":"After 4e-/Re","v":-1.0,"i":-18.5},{"s":"After 4e-/Re","v":-1.1,"i":-20},{"s":"After 4e-/Re","v":-1.22,"i":-24.3},{"s":"After 4e-/Re","v":-1.3,"i":-27.6},{"s":"After 4e-/Re","v":-1.4,"i":-28.5},{"s":"After 4e-/Re","v":-1.48,"i":-27.6},{"s":"After 4e-/Re","v":-1.59,"i":-31},{"s":"After 4e-/Re","v":-1.68,"i":-35},{"s":"After 4e-/Re","v":-1.76,"i":-41},{"s":"After 4e-/Re","v":-1.85,"i":-45.2},{"s":"After 4e-/Re","v":-1.89,"i":-50.3},{"s":"After 4e-/Re","v":-1.92,"i":-60},{"s":"After 4e-/Re","v":-1.94,"i":-62.8},{"s":"After 4e-/Re","v":-1.97,"i":-61},{"s":"After 4e-/Re","v":-2.02,"i":-55.3},{"s":"After 4e-/Re","v":-2.1,"i":-52.3},{"s":"After 4e-/Re","v":-2.16,"i":-57.8},{"s":"After 4e-/Re","v":-2.22,"i":-59},{"s":"After 4e-/Re","v":-2.3,"i":-58.6},{"s":"After 4e-/Re","v":-2.36,"i":-59.5},{"s":"After 4e-/Re","v":-2.43,"i":-67},{"s":"After 4e-/Re","v":-2.48,"i":-82},{"s":"After 4e-/Re","v":-2.5,"i":-91.3},{"s":"After 4e-/Re","v":-2.495,"i":-72},{"s":"After 4e-/Re","v":-2.46,"i":-45.2},{"s":"After 4e-/Re","v":-2.39,"i":-33.5},{"s":"After 4e-/Re","v":-2.3,"i":-28.5},{"s":"After 4e-/Re","v":-2.19,"i":-22.6},{"s":"After 4e-/Re","v":-2.07,"i":-18.4},{"s":"After 4e-/Re","v":-1.99,"i":-15},{"s":"After 4e-/Re","v":-1.93,"i":-11.7},{"s":"After 4e-/Re","v":-1.87,"i":-4.2},{"s":"After 4e-/Re","v":-1.73,"i":-2.5},{"s":"After 4e-/Re","v":-1.5,"i":1.7},{"s":"After 4e-/Re","v":-1.16,"i":5},{"s":"After 4e-/Re","v":-0.88,"i":6.7},{"s":"After 4e-/Re","v":-0.6,"i":10.9},{"s":"After 4e-/Re","v":-0.51,"i":15},{"s":"After 4e-/Re","v":-0.45,"i":20.1},{"s":"After 4e-/Re","v":-0.4,"i":28.5},{"s":"After 4e-/Re","v":-0.34,"i":26},{"s":"After 4e-/Re","v":-0.23,"i":24.8},{"s":"After 4e-/Re","v":-0.11,"i":26.8},{"s":"After 4e-/Re","v":-0.03,"i":32.7},{"s":"After 4e-/Re","v":0.028,"i":39},{"s":"After 4e-/Re","v":0.1,"i":46},{"s":"After 4e-/Re","v":0.2,"i":52.8},{"s":"After 4e-/Re","v":0.34,"i":65.3},{"s":"After 4e-/Re","v":0.398,"i":68.3},{"s":"After 4e-/Re","v":0.472,"i":80.4},{"s":"After 4e-/Re","v":0.525,"i":82.6},{"s":"After 4e-/Re","v":0.61,"i":78.6},{"s":"After 4e-/Re","v":0.685,"i":75.5},{"s":"After 4e-/Re","v":0.78,"i":74.3},{"s":"After 4e-/Re","v":0.929,"i":70.9},{"s":"After 4e-/Re","v":0.998,"i":71.9},{"s":"After 4e-/Re","v":0.982,"i":61},{"s":"After 4e-/Re","v":0.929,"i":48.9},{"s":"After 4e-/Re","v":0.865,"i":40.4},{"s":"After 4e-/Re","v":0.79,"i":33.1},{"s":"After 4e-/Re","v":0.68,"i":18.4},{"s":"After 4e-/Re","v":0.54,"i":10},{"s":"After 4e-/Re","v":0.4,"i":4.2},{"s":"After 4e-/Re","v":0.2,"i":0},{"s":"After 4e-/Re","v":0.028,"i":-3},{"s":"After 4e-/Re","v":-0.14,"i":-5.9},{"s":"After 4e-/Re","v":-0.31,"i":-11.2},{"s":"After 4e-/Re","v":-0.4,"i":-15.5},{"s":"After 4e-/Re","v":-0.45,"i":-18.8},{"s":"After 4e-/Re","v":-0.5,"i":-18},{"s":"After 4e-/Re","v":-0.57,"i":-16.3},{"s":"After 4e-/Re","v":-0.7,"i":-16.5},{"s":"After 4e-/Re","v":-0.88,"i":-17},{"s":"After 4e-/Re","v":-1.0,"i":-18},{"s":"After 4e-/Re","v":-1.1,"i":-19.5},{"s":"After 4e-/Re","v":-1.22,"i":-23.6},{"s":"After 4e-/Re","v":-1.3,"i":-27},{"s":"After 4e-/Re","v":-1.4,"i":-28},{"s":"After 4e-/Re","v":-1.48,"i":-27},{"s":"After 4e-/Re","v":-1.59,"i":-30.3},{"s":"After 4e-/Re","v":-1.68,"i":-34.3},{"s":"After 4e-/Re","v":-1.76,"i":-40.3},{"s":"After 4e-/Re","v":-1.85,"i":-44.5},{"s":"After 4e-/Re","v":-1.89,"i":-49.6},{"s":"After 4e-/Re","v":-1.92,"i":-59.3},{"s":"After 4e-/Re","v":-1.94,"i":-62},{"s":"After 4e-/Re","v":-1.97,"i":-60.3},{"s":"After 4e-/Re","v":-2.02,"i":-54.6},{"s":"After 4e-/Re","v":-2.1,"i":-51.6},{"s":"After 4e-/Re","v":-2.16,"i":-57},{"s":"After 4e-/Re","v":-2.22,"i":-58.3},{"s":"After 4e-/Re","v":-2.3,"i":-58},{"s":"After 4e-/Re","v":-2.36,"i":-58.8},{"s":"After 4e-/Re","v":-2.43,"i":-66},{"s":"After 4e-/Re","v":-2.48,"i":-80},{"s":"After 4e-/Re","v":-2.5,"i":-89},{"s":"After 4e-/Re","v":-2.49,"i":-68},{"s":"After 4e-/Re","v":-2.45,"i":-42},{"s":"After 4e-/Re","v":-2.38,"i":-31.5},{"s":"After 4e-/Re","v":-2.3,"i":-27},{"s":"After 4e-/Re","v":-2.19,"i":-21.5},{"s":"After 4e-/Re","v":-2.07,"i":-17.5},{"s":"After 4e-/Re","v":-1.99,"i":-14},{"s":"After 4e-/Re","v":-1.93,"i":-10.5},{"s":"After 4e-/Re","v":-1.87,"i":-3.5},{"s":"After 4e-/Re","v":-1.73,"i":-1.8},{"s":"After 4e-/Re","v":-1.5,"i":2.3},{"s":"After 4e-/Re","v":-1.16,"i":5.7},{"s":"After 4e-/Re","v":-0.88,"i":7.4},{"s":"After 4e-/Re","v":-0.6,"i":11.6},{"s":"After 4e-/Re","v":-0.51,"i":16},{"s":"After 4e-/Re","v":-0.45,"i":21.5},{"s":"After 4e-/Re","v":-0.4,"i":27.5},{"s":"After 4e-/Re","v":-0.34,"i":25},{"s":"After 4e-/Re","v":-0.23,"i":24},{"s":"After 4e-/Re","v":-0.11,"i":25.5},{"s":"After 4e-/Re","v":-0.03,"i":30},{"s":"After 4e-/Re","v":0.028,"i":36.5},{"s":"After 4e-/Re","v":0.1,"i":43},{"s":"After 4e-/Re","v":0.2,"i":50.3},{"s":"After 4e-/Re","v":0.34,"i":62},{"s":"After 4e-/Re","v":0.398,"i":64},{"s":"After 4e-/Re","v":0.51,"i":73},{"s":"After 4e-/Re","v":0.547,"i":74.6},{"s":"After 4e-/Re","v":0.674,"i":71.7},{"s":"After 4e-/Re","v":0.823,"i":70.7},{"s":"After 4e-/Re","v":0.929,"i":68.5},{"s":"After 4e-/Re","v":0.971,"i":68.9},{"s":"After 4e-/Re","v":0.998,"i":71.9},{"s":"After 4e-/Re","v":0.982,"i":60.3},{"s":"After 4e-/Re","v":0.929,"i":48.2},{"s":"After 4e-/Re","v":0.865,"i":39.7},{"s":"After 4e-/Re","v":0.79,"i":32.4},{"s":"After 4e-/Re","v":0.68,"i":17.7},{"s":"After 4e-/Re","v":0.54,"i":9.3},{"s":"After 4e-/Re","v":0.4,"i":3.5},{"s":"After 4e-/Re","v":0.2,"i":-0.7}
],
"botArrows": [
{"a":"br","v":-0.1375,"i":2.6,"v2":-0.33,"i2":2.6},
{"a":"r","v":-0.737,"i":1.4,"v2":-0.925,"i2":1.4},
{"a":"bl","v":-2.314,"i":-40.5,"v2":-2.39,"i2":-55}
],
"botHeads": [
{"a":"br","v":-0.339,"i":2.6},
{"a":"r","v":-0.933,"i":1.4},
{"a":"bl","v":-2.393,"i":-55.9}
],
"bullets": [
{"line":1,"k":"b","text":"•"},{"line":1,"k":"t","text":"Current enhancement seen"},
{"line":2,"k":"t","text":"with addition of [Et₃NH]⁺"},
{"line":3,"k":"b","text":"•"},{"line":3,"k":"t","text":"The second reduction"},
{"line":4,"k":"t","text":"coincides with reduction of"},
{"line":5,"k":"t","text":"acid, but the current"},
{"line":6,"k":"t","text":"enhancement at the first"},
{"line":7,"k":"t","text":"reduction is suggestive of"},
{"line":8,"k":"t","text":"PCET!"}
],
"para": [
{"line":1,"k":"p","text":"CVs \u200acollected with \u200a250 mV/s \u200ascan rate \u200ain 0.2 \u200aM"},
{"line":2,"k":"p","text":"[NBu₄][PF₆] \u2002acetonitrile \u2002solution \u2002with \u20025 \u2002mm"},
{"line":3,"k":"p","text":"glassy \u2002\u2004\u2009carbon \u2002\u2004\u2009working \u2002\u2004\u2009electrode, \u2002\u2004\u2009Ag⁰/⁺"},
{"line":4,"k":"p","text":"reference \u2006electrode, \u2006and \u2006Zn \u2006counter \u2006electrode."},
{"line":5,"k":"p","text":"CPEs \u2002\u2005conducted \u2002\u2005with \u2002\u2005reticulated \u2002\u2005vitreous"},
{"line":6,"k":"p","text":"carbon working electrode."}
]
},
"concat": [
{
 "width": 1070, "height": 540,
 "encoding": {
  "x": {"field": "v", "type": "quantitative", "scale": {"domain": [-3, 1.0226], "reverse": true, "nice": false, "zero": false},
        "axis": {"values": [1, 0.5, 0, -0.5, -1, -1.5, -2, -2.5, -3], "labelExpr": "(datum.value < 0 ? '-' : '') + format(abs(datum.value), '.1f')", "tickSize": 24, "labelPadding": 14, "title": "Current (V vs. Fc/Fc⁺)", "titleX": 535, "titleY": 105.5}},
  "y": {"field": "i", "type": "quantitative", "scale": {"domain": [-150, 153.66], "reverse": true, "nice": false, "zero": false},
        "axis": {"values": [-150, -100, -50, 0, 50, 100, 150], "labelExpr": "(datum.value < 0 ? '-' : '') + format(abs(datum.value), 'd')", "tickSize": 24, "labelPadding": 14, "title": "Current (µA)", "titleFont": "DejaVu Sans", "titleFontSize": 30, "titleAngle": 270, "titleX": -163, "titleY": 270}}
 },
 "layer": [
  {"data": {"name": "top"}, "mark": {"type": "line", "strokeWidth": 3, "interpolate": "catmull-rom", "strokeJoin": "round"},
   "encoding": {"order": {"value": null},
    "color": {"field": "s", "type": "nominal", "scale": {"domain": ["0","1","2","3","4","5"], "range": ["#FF0000","#FFA500","#66CC00","#00CCCC","#0033CC","#6600CC"]},
      "legend": {"title": null, "orient": "none", "legendX": 782, "legendY": 291, "rowPadding": 0, "symbolType": "M-1.316,0H1.316", "symbolSize": 1444, "labelFontSize": 33, "labelOffset": 20, "labelExpr": "datum.label + ' Eq [Et₃NH][Cl]'"}}}},
  {"data": {"name": "topArrows"}, "mark": {"type": "rule", "color": "#000", "strokeWidth": 6},
   "encoding": {"x2": {"field": "v2"}, "y2": {"field": "i2"}}},
  {"data": {"name": "topHeads"}, "transform": [{"filter": "datum.a == 'h'"}], "mark": {"type": "point", "shape": "triangle-right", "filled": true, "color": "#000", "opacity": 1, "size": 480}},
  {"data": {"name": "topHeads"}, "transform": [{"filter": "datum.a == 'd'"}], "mark": {"type": "point", "shape": "triangle-up", "angle": -7, "filled": true, "color": "#000", "opacity": 1, "size": 420}}
 ]
},
{
 "width": 1104, "height": 540,
 "data": {"name": "bullets"},
 "mark": {"type": "text", "align": "left", "baseline": "middle", "font": "Liberation Sans", "fontSize": 53.5, "color": "#000"},
 "encoding": {
  "x": {"field": "k", "type": "nominal", "scale": {"type": "point", "domain": ["b", "t"], "range": [369, 437], "padding": 0}, "axis": null},
  "y": {"field": "line", "type": "quantitative", "scale": {"domain": [1, 8], "range": [152, 600], "nice": false, "zero": false}, "axis": null},
  "text": {"field": "text"}
 }
},
{
 "width": 1070, "height": 556,
 "data": {"name": "para"},
 "mark": {"type": "text", "align": "left", "baseline": "middle", "font": "Liberation Sans", "fontSize": 53.5, "color": "#000"},
 "encoding": {
  "x": {"field": "k", "type": "nominal", "scale": {"type": "point", "domain": ["p"], "range": [-234, -234], "padding": 0}, "axis": null},
  "y": {"field": "line", "type": "quantitative", "scale": {"domain": [1, 6], "range": [302.5, 622], "nice": false, "zero": false}, "axis": null},
  "text": {"field": "text"}
 }
},
{
 "width": 1104, "height": 556,
 "encoding": {
  "x": {"field": "v", "type": "quantitative", "scale": {"domain": [-2.5, 1.016], "reverse": true, "nice": false, "zero": false},
        "axis": {"values": [1, 0.5, 0, -0.5, -1, -1.5, -2, -2.5], "labelExpr": "(datum.value < 0 ? '-' : '') + format(abs(datum.value), '.1f')", "tickSize": 25, "labelPadding": 16, "title": "Potential (V vs. \u2004Ag/Ag⁺)", "titleFontSize": 34, "titleX": 552, "titleY": 108.5}},
  "y": {"field": "i", "type": "quantitative", "scale": {"domain": [-100, 101.8], "reverse": true, "nice": false, "zero": false},
        "axis": {"values": [-100, -50, 0, 50, 100], "labelExpr": "(datum.value < 0 ? '-' : '') + format(abs(datum.value), 'd')", "tickSize": 25, "labelPadding": 14, "title": "Current (µA)", "titleFont": "DejaVu Sans", "titleFontSize": 30, "titleAngle": 270, "titleX": -164, "titleY": 278}}
 },
 "layer": [
  {"data": {"name": "bot"}, "mark": {"type": "line", "strokeWidth": 3, "interpolate": "catmull-rom", "strokeJoin": "round"},
   "encoding": {"order": {"value": null},
    "color": {"field": "s", "type": "nominal", "scale": {"domain": ["Before CPE", "After 2e-/Re", "After 4e-/Re"], "range": ["#9C6A10", "#FF0000", "#0000CC"]},
      "legend": {"title": null, "orient": "none", "legendX": 809.75, "legendY": 424, "rowPadding": 0.5, "symbolType": "M-1.507,0H1.507", "symbolSize": 1190, "labelFontSize": 33, "labelOffset": 22.75}}}},
  {"data": {"name": "botArrows"}, "transform": [{"filter": "datum.a == 'br'"}], "mark": {"type": "rule", "color": "#8B4A1A", "strokeWidth": 4}, "encoding": {"x2": {"field": "v2"}, "y2": {"field": "i2"}}},
  {"data": {"name": "botArrows"}, "transform": [{"filter": "datum.a == 'r'"}], "mark": {"type": "rule", "color": "#FF0000", "strokeWidth": 6}, "encoding": {"x2": {"field": "v2"}, "y2": {"field": "i2"}}},
  {"data": {"name": "botArrows"}, "transform": [{"filter": "datum.a == 'bl'"}], "mark": {"type": "rule", "color": "#0000CC", "strokeWidth": 3}, "encoding": {"x2": {"field": "v2"}, "y2": {"field": "i2"}}},
  {"data": {"name": "botHeads"}, "transform": [{"filter": "datum.a == 'br'"}], "mark": {"type": "point", "shape": "triangle-right", "filled": true, "color": "#8B4A1A", "opacity": 1, "size": 220}},
  {"data": {"name": "botHeads"}, "transform": [{"filter": "datum.a == 'r'"}], "mark": {"type": "point", "shape": "triangle-right", "filled": true, "color": "#FF0000", "opacity": 1, "size": 260}},
  {"data": {"name": "botHeads"}, "transform": [{"filter": "datum.a == 'bl'"}], "mark": {"type": "point", "shape": "triangle-up", "angle": 30, "filled": true, "color": "#0000CC", "opacity": 1, "size": 180}}
 ]
}
]
}
